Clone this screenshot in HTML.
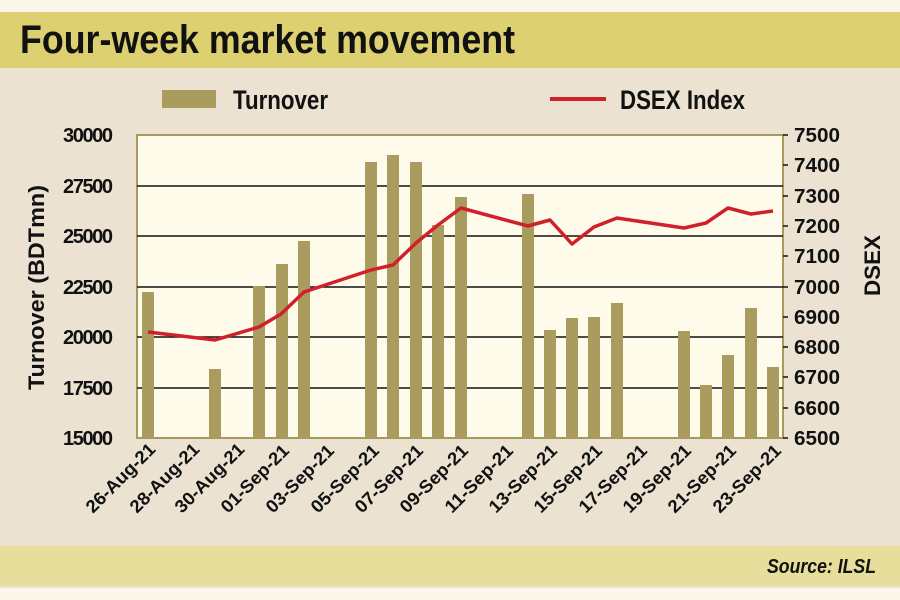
<!DOCTYPE html>
<html><head><meta charset="utf-8"><style>
html,body{margin:0;padding:0;width:900px;height:600px;overflow:hidden;background:#fcf5ea}
svg{display:block}
text{font-family:"Liberation Sans Narrow","Liberation Sans",sans-serif;font-weight:bold;fill:#111}
</style></head><body>
<svg width="900" height="600" viewBox="0 0 900 600" xmlns="http://www.w3.org/2000/svg">
<rect x="0" y="0" width="900" height="600" fill="#fcf5ea"/>
<rect x="0" y="12" width="900" height="576" fill="#ebe2d2"/>
<rect x="0" y="12" width="900" height="56" fill="#dcd070"/>
<text x="20" y="53" font-size="40" textLength="495" lengthAdjust="spacingAndGlyphs">Four-week market movement</text>
<rect x="0" y="546" width="900" height="40" fill="#e6de9a"/>
<text x="767" y="573" font-size="20" font-style="italic" font-weight="normal" textLength="109" lengthAdjust="spacingAndGlyphs">Source: ILSL</text>
<!-- legend -->
<rect x="162" y="90" width="54" height="18" fill="#aa9b5e"/>
<text x="233" y="109" font-size="27" textLength="95" lengthAdjust="spacingAndGlyphs">Turnover</text>
<line x1="550" y1="99" x2="606" y2="99" stroke="#d0202a" stroke-width="4"/>
<text x="620" y="109" font-size="27" textLength="125" lengthAdjust="spacingAndGlyphs">DSEX Index</text>
<!-- plot -->
<rect x="137" y="135" width="646" height="303" fill="#fefbeb" stroke="#a89a5e" stroke-width="2"/>
<g stroke="#111" stroke-width="1.5">
<line x1="137" y1="186" x2="783" y2="186"/>
<line x1="137" y1="236" x2="783" y2="236"/>
<line x1="137" y1="287" x2="783" y2="287"/>
<line x1="137" y1="337" x2="783" y2="337"/>
<line x1="137" y1="388" x2="783" y2="388"/>
</g>
<g stroke="#111" stroke-width="1.5">
<line x1="783" y1="135" x2="788" y2="135"/><line x1="783" y1="165" x2="788" y2="165"/><line x1="783" y1="196" x2="788" y2="196"/><line x1="783" y1="226" x2="788" y2="226"/><line x1="783" y1="256" x2="788" y2="256"/><line x1="783" y1="287" x2="788" y2="287"/><line x1="783" y1="317" x2="788" y2="317"/><line x1="783" y1="347" x2="788" y2="347"/><line x1="783" y1="377" x2="788" y2="377"/><line x1="783" y1="408" x2="788" y2="408"/><line x1="783" y1="438" x2="788" y2="438"/>
</g>
<g fill="#aa9b5e">
<rect x="142" y="292" width="12" height="146"/>
<rect x="209" y="369" width="12" height="69"/>
<rect x="253" y="286" width="12" height="152"/>
<rect x="276" y="264" width="12" height="174"/>
<rect x="298" y="241" width="12" height="197"/>
<rect x="365" y="162" width="12" height="276"/>
<rect x="387" y="155" width="12" height="283"/>
<rect x="410" y="162" width="12" height="276"/>
<rect x="432" y="225" width="12" height="213"/>
<rect x="455" y="197" width="12" height="241"/>
<rect x="522" y="194" width="12" height="244"/>
<rect x="544" y="330" width="12" height="108"/>
<rect x="566" y="318" width="12" height="120"/>
<rect x="588" y="317" width="12" height="121"/>
<rect x="611" y="303" width="12" height="135"/>
<rect x="678" y="331" width="12" height="107"/>
<rect x="700" y="385" width="12" height="53"/>
<rect x="722" y="355" width="12" height="83"/>
<rect x="745" y="308" width="12" height="130"/>
<rect x="767" y="367" width="12" height="71"/>
</g>
<polyline fill="none" stroke="#d0202a" stroke-width="3.5" stroke-linejoin="round" points="148,332 215,340 259,327 281,314 304,292 371,270 393,265 416,243 438,225 461,208 528,226 550,220 572,244 594,227 617,218 684,228 706,223 728,208 751,214 773,211"/>
<g font-size="20" lengthAdjust="spacingAndGlyphs">
<text x="63" y="142" textLength="50">30000</text><text x="63" y="193" textLength="50">27500</text><text x="63" y="243" textLength="50">25000</text><text x="63" y="294" textLength="50">22500</text><text x="63" y="344" textLength="50">20000</text><text x="63" y="395" textLength="50">17500</text><text x="63" y="445" textLength="50">15000</text>
</g>
<g font-size="20">
<text x="794" y="142" textLength="46" lengthAdjust="spacingAndGlyphs">7500</text><text x="794" y="172" textLength="46" lengthAdjust="spacingAndGlyphs">7400</text><text x="794" y="203" textLength="46" lengthAdjust="spacingAndGlyphs">7300</text><text x="794" y="233" textLength="46" lengthAdjust="spacingAndGlyphs">7200</text><text x="794" y="263" textLength="46" lengthAdjust="spacingAndGlyphs">7100</text><text x="794" y="294" textLength="46" lengthAdjust="spacingAndGlyphs">7000</text><text x="794" y="324" textLength="46" lengthAdjust="spacingAndGlyphs">6900</text><text x="794" y="354" textLength="46" lengthAdjust="spacingAndGlyphs">6800</text><text x="794" y="384" textLength="46" lengthAdjust="spacingAndGlyphs">6700</text><text x="794" y="415" textLength="46" lengthAdjust="spacingAndGlyphs">6600</text><text x="794" y="445" textLength="46" lengthAdjust="spacingAndGlyphs">6500</text>
</g>
<text transform="translate(44,390) rotate(-90)" font-size="22" textLength="205" lengthAdjust="spacingAndGlyphs">Turnover (BDTmn)</text>
<text transform="translate(880,296) rotate(-90)" font-size="22" textLength="61" lengthAdjust="spacingAndGlyphs">DSEX</text>
<g font-size="18">
<text transform="translate(93,514) rotate(-45)" textLength="90" lengthAdjust="spacingAndGlyphs">26-Aug-21</text>
<text transform="translate(137,514) rotate(-45)" textLength="90" lengthAdjust="spacingAndGlyphs">28-Aug-21</text>
<text transform="translate(182,514) rotate(-45)" textLength="90" lengthAdjust="spacingAndGlyphs">30-Aug-21</text>
<text transform="translate(228,514) rotate(-45)" textLength="88" lengthAdjust="spacingAndGlyphs">01-Sep-21</text>
<text transform="translate(273,514) rotate(-45)" textLength="88" lengthAdjust="spacingAndGlyphs">03-Sep-21</text>
<text transform="translate(318,514) rotate(-45)" textLength="88" lengthAdjust="spacingAndGlyphs">05-Sep-21</text>
<text transform="translate(362,514) rotate(-45)" textLength="88" lengthAdjust="spacingAndGlyphs">07-Sep-21</text>
<text transform="translate(407,514) rotate(-45)" textLength="88" lengthAdjust="spacingAndGlyphs">09-Sep-21</text>
<text transform="translate(452,514) rotate(-45)" textLength="88" lengthAdjust="spacingAndGlyphs">11-Sep-21</text>
<text transform="translate(496,514) rotate(-45)" textLength="88" lengthAdjust="spacingAndGlyphs">13-Sep-21</text>
<text transform="translate(541,514) rotate(-45)" textLength="88" lengthAdjust="spacingAndGlyphs">15-Sep-21</text>
<text transform="translate(586,514) rotate(-45)" textLength="88" lengthAdjust="spacingAndGlyphs">17-Sep-21</text>
<text transform="translate(630,514) rotate(-45)" textLength="88" lengthAdjust="spacingAndGlyphs">19-Sep-21</text>
<text transform="translate(675,514) rotate(-45)" textLength="88" lengthAdjust="spacingAndGlyphs">21-Sep-21</text>
<text transform="translate(720,514) rotate(-45)" textLength="88" lengthAdjust="spacingAndGlyphs">23-Sep-21</text>
</g>
</svg>
</body></html>
